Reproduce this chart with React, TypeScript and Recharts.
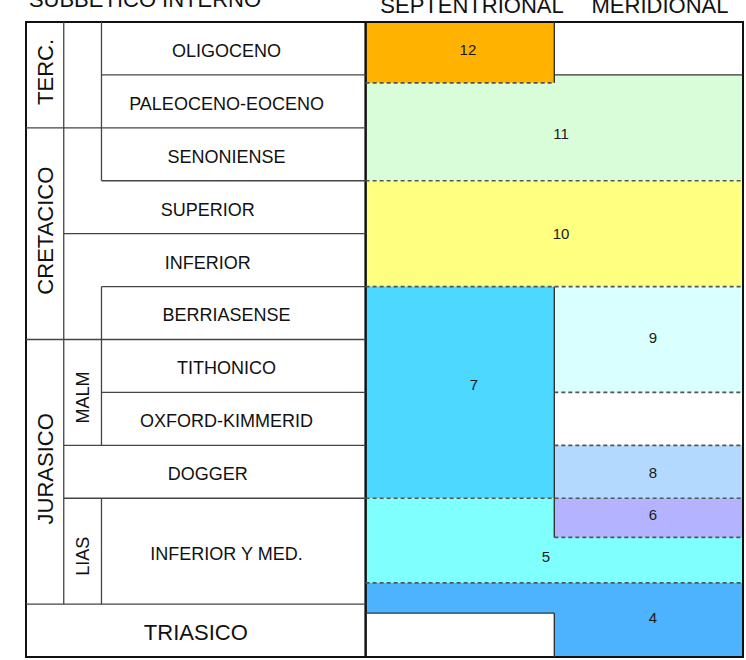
import React from 'react';
import {
  ComposedChart,
  XAxis,
  YAxis,
  ReferenceArea,
  ReferenceLine,
  Scatter,
} from 'recharts';

const FONT = '"Liberation Sans", Arial, Helvetica, sans-serif';

// ---------------- DATA ----------------
// Column units: 0–1 period, 1–2 series, 2–9 stage, 9–14 Septentrional, 14–19 Meridional
// Row units: 0 (top / youngest) … 12 (base / oldest)

const headerNames = ['SUBBETICO INTERNO', 'SEPTENTRIONAL', 'MERIDIONAL'];

const periodNames = ['TERC.', 'CRETACICO', 'JURASICO'];
const periodTop = [0, 2, 6];
const periodBase = [2, 6, 11];

const seriesNames = ['MALM', 'LIAS'];
const seriesTop = [6, 9];
const seriesBase = [8, 11];

const stageNames = [
  'OLIGOCENO',
  'PALEOCENO-EOCENO',
  'SENONIENSE',
  'SUPERIOR',
  'INFERIOR',
  'BERRIASENSE',
  'TITHONICO',
  'OXFORD-KIMMERID',
  'DOGGER',
  'INFERIOR Y MED.',
  'TRIASICO',
];
const stageCol = [2, 2, 2, 1, 1, 2, 2, 2, 1, 2, 0];
const stageTop = [0, 1, 2, 3, 4, 5, 6, 7, 8, 9, 11];
const stageBase = [1, 2, 3, 4, 5, 6, 7, 8, 9, 11, 12];

// Lithostratigraphic units (drawn in this order)
const unitIds = ['11', '12', '10', '7', '9', '8', '5', '6', '4'];
const unitLeft = [9, 9, 9, 9, 14, 14, 9, 14, 9];
const unitRight = [19, 14, 19, 14, 19, 19, 19, 19, 19];
const unitTop = [1, 0, 3, 5, 5, 8, 9, 9, 10.6];
const unitBase = [3, 1.15, 5, 9, 7, 9, 10.6, 9.74, 12];
const unitLabelX = [14.18, 11.71, 14.18, 11.87, 16.61, 16.61, 13.78, 16.61, 16.61];
const unitLabelY = [2.1, 0.53, 3.99, 6.86, 5.97, 8.52, 10.11, 9.3, 11.26];
const unitColors = [
  '#D9FDD9',
  '#FFB300',
  '#FFFF80',
  '#4DD8FF',
  '#D9FFFF',
  '#B3D9FF',
  '#80FFFF',
  '#B3B3FF',
  '#4DB3FF',
];

// Hiatus (no record) in the Septentrional Triassic
const gapBox = [9, 14, 11.17, 12];

// Table grid lines [x1, y1, x2, y2]
const gridLines = [
  [2, 1, 9, 1],
  [0, 2, 9, 2],
  [2, 3, 9, 3],
  [1, 4, 9, 4],
  [2, 5, 9, 5],
  [0, 6, 9, 6],
  [2, 7, 9, 7],
  [1, 8, 9, 8],
  [1, 9, 9, 9],
  [0, 11, 9, 11],
  [1, 0, 1, 11],
  [2, 0, 2, 3],
  [2, 5, 2, 8],
  [2, 9, 2, 11],
];

// Solid contacts in the columns
const solidContacts = [
  [14, 0, 14, 1.15],
  [14, 1, 19, 1],
  [14, 5, 14, 9.74],
  [9, 11.17, 14, 11.17],
  [14, 11.17, 14, 12],
];

// Dashed (gradual) contacts
const dashedContacts = [
  [9, 1.15, 14, 1.15],
  [9, 3, 19, 3],
  [9, 5, 19, 5],
  [14, 7, 19, 7],
  [14, 8, 19, 8],
  [9, 9, 19, 9],
  [14, 9.74, 19, 9.74],
  [9, 10.6, 19, 10.6],
];

// ---------------- CHART ----------------
const W = 746;
const H = 660;

const UnitLabel = (p: any) => (
  <text
    x={p.cx}
    y={p.cy}
    dy="0.36em"
    textAnchor="middle"
    fontSize={15}
    fontFamily={FONT}
    fill="#1a1a1a"
  >
    {p.payload && p.payload.id}
  </text>
);

export default function App() {
  const unitPoints = unitIds.map((id, i) => ({ x: unitLabelX[i], y: unitLabelY[i], id }));

  const textStyle = { fontFamily: FONT, fill: '#111' };

  return (
    <div style={{ position: 'absolute', left: 0, top: 0, width: W, height: H, background: '#fff' }}>
      <ComposedChart
        width={W}
        height={H}
        data={unitPoints}
        margin={{ top: 22, right: 3, bottom: 3, left: 26 }}
      >
        <XAxis type="number" dataKey="x" domain={[0, 19]} hide allowDataOverflow />
        <YAxis type="number" dataKey="y" domain={[0, 12]} reversed hide allowDataOverflow />

        {unitIds.map((id, i) => (
          <ReferenceArea
            key={'u' + id}
            x1={unitLeft[i]}
            x2={unitRight[i]}
            y1={unitTop[i]}
            y2={unitBase[i]}
            fill={unitColors[i]}
            fillOpacity={1}
            stroke="none"
            ifOverflow="visible"
          />
        ))}
        <ReferenceArea
          x1={gapBox[0]}
          x2={gapBox[1]}
          y1={gapBox[2]}
          y2={gapBox[3]}
          fill="#ffffff"
          fillOpacity={1}
          stroke="none"
          ifOverflow="visible"
        />

        {gridLines.map((s, i) => (
          <ReferenceLine
            key={'g' + i}
            segment={[{ x: s[0], y: s[1] }, { x: s[2], y: s[3] }]}
            stroke="#444"
            strokeWidth={1.3}
            ifOverflow="visible"
          />
        ))}
        {solidContacts.map((s, i) => (
          <ReferenceLine
            key={'s' + i}
            segment={[{ x: s[0], y: s[1] }, { x: s[2], y: s[3] }]}
            stroke="#333"
            strokeWidth={1.4}
            ifOverflow="visible"
          />
        ))}
        {dashedContacts.map((s, i) => (
          <ReferenceLine
            key={'d' + i}
            segment={[{ x: s[0], y: s[1] }, { x: s[2], y: s[3] }]}
            stroke="#555"
            strokeWidth={1.6}
            strokeDasharray="4 3"
            ifOverflow="visible"
          />
        ))}

        {/* outer frames */}
        <ReferenceArea x1={0} x2={9} y1={0} y2={12} fill="none" stroke="#111" strokeWidth={2} ifOverflow="visible" />
        <ReferenceArea x1={9} x2={19} y1={0} y2={12} fill="none" stroke="#111" strokeWidth={2} ifOverflow="visible" />

        {/* text cells */}
        {periodNames.map((n, i) => (
          <ReferenceArea
            key={'p' + n}
            x1={0}
            x2={1}
            y1={periodTop[i]}
            y2={periodBase[i]}
            fill="none"
            stroke="none"
            ifOverflow="visible"
            label={{ value: n, position: 'center', angle: -90, fontSize: 22, dy: -3, ...textStyle }}
          />
        ))}
        {seriesNames.map((n, i) => (
          <ReferenceArea
            key={'se' + n}
            x1={1}
            x2={2}
            y1={seriesTop[i]}
            y2={seriesBase[i]}
            fill="none"
            stroke="none"
            ifOverflow="visible"
            label={{ value: n, position: 'center', angle: -90, fontSize: 18, dy: 5, ...textStyle }}
          />
        ))}
        {stageNames.map((n, i) => (
          <ReferenceArea
            key={'st' + n}
            x1={stageCol[i]}
            x2={9}
            y1={stageTop[i]}
            y2={stageBase[i]}
            fill="none"
            stroke="none"
            ifOverflow="visible"
            label={{
              value: n,
              position: 'center',
              fontSize: stageCol[i] === 0 ? 22 : 18,
              dx: stageCol[i] === 0 ? 0 : -7,
              dy: 2,
              ...textStyle,
            }}
          />
        ))}

        <Scatter
          data={unitPoints}
          dataKey="y"
          isAnimationActive={false}
          shape={UnitLabel}
        />
      </ComposedChart>

      <svg
        width={W}
        height={H}
        style={{ position: 'absolute', left: 0, top: 0, pointerEvents: 'none' }}
      >
        <text x={145} y={7} textAnchor="middle" fontSize={22} fontFamily={FONT} fill="#111">
          {headerNames[0]}
        </text>
        <text x={472} y={13} textAnchor="middle" fontSize={22} fontFamily={FONT} fill="#111">
          {headerNames[1]}
        </text>
        <text x={660} y={13} textAnchor="middle" fontSize={22} fontFamily={FONT} fill="#111">
          {headerNames[2]}
        </text>
      </svg>
    </div>
  );
}
